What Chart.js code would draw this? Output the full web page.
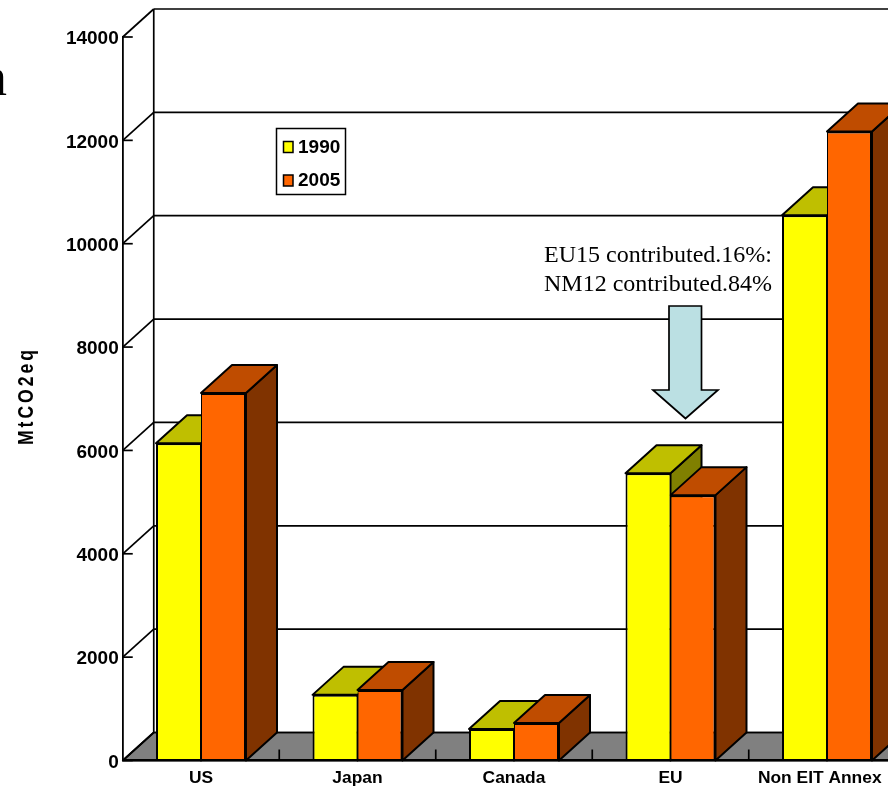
<!DOCTYPE html>
<html>
<head>
<meta charset="utf-8">
<title>MtCO2eq</title>
<script src="https://cdn.jsdelivr.net/npm/chart.js@4/dist/chart.umd.js"></script>
<style>
html,body{margin:0;padding:0;background:#fff;overflow:hidden}
canvas{display:block}
</style>
</head>
<body>
<canvas id="c" width="940" height="789"></canvas>
<script>
const categories=["US","Japan","Canada","EU","Non EIT Annex   "];
const values1990=[6140,1270,610,5560,10550];
const values2005=[7110,1365,725,5135,12170];
const yTicks=[0,2000,4000,6000,8000,10000,12000,14000];
const seriesNames=["1990","2005"];
const noteLines=["EU15 contributed.16%:","NM12 contributed.84%"];

const DX=31,DY=-28; // depth of the 3D box
const SANS="'Liberation Sans'";
const faces=[
  {front:"#ffff00",top:"#bfbf00",side:"#808000"},
  {front:"#ff6600",top:"#bf4c00",side:"#803300"}
];

function poly(ctx,pts,fill){
  ctx.beginPath();
  pts.forEach((p,i)=>i?ctx.lineTo(p[0],p[1]):ctx.moveTo(p[0],p[1]));
  ctx.closePath();
  if(fill){ctx.fillStyle=fill;ctx.fill();}
  ctx.stroke();
}
function line(ctx,x1,y1,x2,y2){ctx.beginPath();ctx.moveTo(x1,y1);ctx.lineTo(x2,y2);ctx.stroke();}

// walls, floor, gridlines, ticks
const box3d={
  id:"box3d",
  beforeDraw(chart){
    const {ctx,chartArea:a,scales:{x,y}}=chart;
    ctx.save();
    ctx.strokeStyle="#000";ctx.lineWidth=1.7;ctx.lineJoin="round";
    const y0=y.getPixelForValue(0);
    poly(ctx,[[a.left,y0],[a.left+DX,y0+DY],[a.right+DX,y0+DY],[a.right,y0]],"#808080");
    yTicks.forEach(v=>{
      const py=y.getPixelForValue(v);
      line(ctx,a.left,py,a.left+DX,py+DY);
      line(ctx,a.left+DX,py+DY,a.right+DX,py+DY);
      line(ctx,a.left,py,a.left+10,py);
    });
    line(ctx,a.left+DX,y.getPixelForValue(14000)+DY,a.left+DX,y0+DY);
    const band=x.getPixelForTick(1)-x.getPixelForTick(0);
    categories.forEach((c,i)=>{
      const px=x.getPixelForTick(i)+band/2;
      line(ctx,px,y0,px,y0-11);
    });
    ctx.restore();
  },
  // top and side faces go under the library's front faces
  beforeDatasetsDraw(chart){
    const ctx=chart.ctx;
    ctx.save();
    ctx.strokeStyle="#000";ctx.lineWidth=2;ctx.lineJoin="round";
    chart.data.datasets.forEach((ds,d)=>{
      chart.getDatasetMeta(d).data.forEach(bar=>{
        const p=bar.getProps(["x","y","base","width"],true);
        const l=p.x-p.width/2,r=p.x+p.width/2;
        poly(ctx,[[r,p.y],[r+DX,p.y+DY],[r+DX,p.base+DY],[r,p.base]],faces[d].side);
        poly(ctx,[[l,p.y],[l+DX,p.y+DY],[r+DX,p.y+DY],[r,p.y]],faces[d].top);
      });
    });
    ctx.restore();
  },
  afterDraw(chart){
    const ctx=chart.ctx;
    ctx.save();
    // legend
    ctx.strokeStyle="#000";ctx.lineWidth=1.5;
    ctx.fillStyle="#fff";
    ctx.fillRect(276.5,128.5,69,66);ctx.strokeRect(276.5,128.5,69,66);
    ctx.textAlign="left";ctx.textBaseline="middle";
    ctx.font="bold 19px "+SANS;
    seriesNames.forEach((n,i)=>{
      const ly=146.5+i*33.5;
      ctx.fillStyle=faces[i].front;
      ctx.fillRect(283.5,ly-5,9.5,11);ctx.strokeRect(283.5,ly-5,9.5,11);
      ctx.fillStyle="#000";
      ctx.fillText(n,298,ly+1);
    });
    // y axis title, squeezed like the original
    ctx.save();
    ctx.translate(33,445);ctx.rotate(-Math.PI/2);ctx.scale(0.8,1);
    ctx.font="bold 22px "+SANS;ctx.letterSpacing="3.7px";
    ctx.textAlign="left";ctx.textBaseline="alphabetic";
    ctx.fillText("MtCO2eq",0,0);
    ctx.restore();
    // note above EU
    ctx.font="24px 'Liberation Serif'";ctx.textAlign="right";ctx.textBaseline="alphabetic";
    ctx.fillStyle="#000";
    noteLines.forEach((t,i)=>ctx.fillText(t,772,262+i*29));
    // arrow to EU
    ctx.lineWidth=1.7;
    poly(ctx,[[669,306],[701.5,306],[701.5,390],[718,390],[685.5,418.5],[653,390],[669,390]],"#bbe0e3");
    // clipped slide text on the left
    ctx.font="54px 'Liberation Serif'";ctx.textAlign="left";ctx.fillStyle="#000";
    ctx.fillText("n",-20,95);
    ctx.restore();
  }
};

new Chart(document.getElementById("c"),{
  type:"bar",
  data:{
    labels:categories,
    datasets:[
      {label:seriesNames[0],data:values1990,backgroundColor:faces[0].front,borderColor:"#000",borderWidth:{top:2,left:2,right:1,bottom:0}},
      {label:seriesNames[1],data:values2005,backgroundColor:faces[1].front,borderColor:"#000",borderWidth:{top:2,left:1,right:2,bottom:0}}
    ]
  },
  options:{
    responsive:false,
    animation:false,
    devicePixelRatio:1,
    layout:{padding:{top:37,right:34.75,bottom:0,left:0}},
    plugins:{legend:{display:false},tooltip:{enabled:false},title:{display:false}},
    datasets:{bar:{categoryPercentage:0.575,barPercentage:1}},
    scales:{
      x:{
        grid:{display:false,drawTicks:false},
        border:{display:true,color:"#000",width:2.4,z:1},
        afterFit(s){s.height=28.5;},
        ticks:{color:"#000",font:{family:SANS,weight:"bold",size:17.4},autoSkip:false,maxRotation:0,padding:7}
      },
      y:{
        min:0,max:14000,
        grid:{display:false,drawTicks:false},
        border:{display:true,color:"#000",width:1.8},
        afterFit(s){s.width=122.75;},
        afterBuildTicks(s){s.ticks=yTicks.map(v=>({value:v}));},
        ticks:{color:"#000",font:{family:SANS,weight:"bold",size:19},padding:4,labelOffset:2,callback:v=>String(v)}
      }
    }
  },
  plugins:[box3d]
});
</script>
</body>
</html>
